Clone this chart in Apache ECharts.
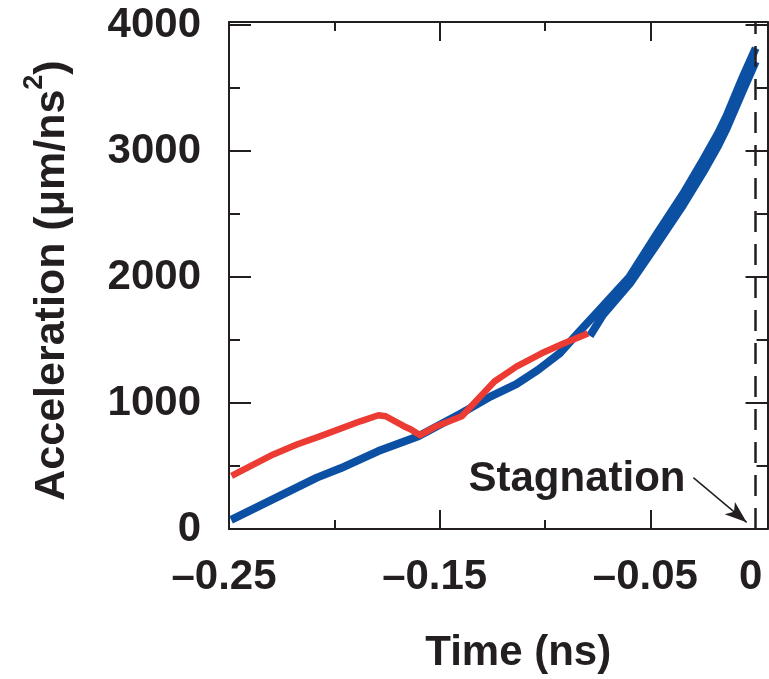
<!DOCTYPE html>
<html>
<head>
<meta charset="utf-8">
<script src="https://cdn.jsdelivr.net/npm/echarts@6/dist/echarts.min.js"></script>
<style>
html,body{margin:0;padding:0;background:#fff;}
#chart{width:769px;height:679px;}
</style>
</head>
<body>
<div id="chart"></div>
<script>
// ---- data ----
const timeBlueA = [-0.249, -0.2083, -0.1971, -0.1791, -0.1601, -0.1395, -0.1257, -0.1136, -0.1033, -0.093, -0.0844, -0.075, -0.060, -0.047, -0.0345, -0.025, -0.0179, -0.0138, -0.0061, 0.0];
const accelBlueA = [72, 408, 482, 619, 737, 921, 1053, 1150, 1263, 1395, 1555, 1725, 2000, 2340, 2660, 2930, 3140, 3280, 3590, 3817];
const timeBlueB = [-0.0787, -0.0725, -0.0597, -0.0469, -0.0345, -0.025, -0.0179, -0.0138, -0.0061, 0.0];
const accelBlueB = [1534, 1700, 1950, 2260, 2570, 2830, 3040, 3180, 3480, 3711];
const timeRed = [-0.2488, -0.229, -0.2178, -0.2066, -0.1877, -0.1791, -0.1756, -0.167, -0.1636, -0.1593, -0.1515, -0.1395, -0.124, -0.1136, -0.1016, -0.0912, -0.0796];
const accelRed = [421, 592, 671, 737, 855, 903, 895, 816, 790, 745, 816, 895, 1171, 1289, 1395, 1473, 1552];
const xMajorTicks = [-0.25, -0.15, -0.05];
const xMinorTicks = [-0.2, -0.1];
const xLabelValues = [-0.25, -0.15, -0.05, 0];
const yMajorTicks = [0, 1000, 2000, 3000, 4000];
const yMinorTicks = [500, 1500, 2500, 3500];
const stagnationTime = 0;
const arrowFrom = [-0.0296, 408];
const arrowTo = [-0.0043, 53];

// ---- chart ----
const ink = '#231f20';
const fam = '"Liberation Sans", Arial, Helvetica, sans-serif';
const xMin = -0.25, xMax = 0.0056, yMin = 0, yMax = 4025;
const zip = (a, b) => a.map((v, i) => [v, b[i]]);

function xLabel(v) {
  if (Math.abs(v) < 1e-9) return '0';
  return '\u2013' + Math.abs(v).toFixed(2);
}
function yLabel(v) { return String(Math.round(v)); }

function mkAxis(pos, isX, major, extra) {
  const a = {
    type: 'value', position: pos,
    min: isX ? xMin : yMin, max: isX ? xMax : yMax,
    splitLine: { show: false },
    axisLine: { show: major, onZero: false, lineStyle: { color: ink, width: 2 } },
    axisTick: {
      inside: true,
      length: major ? (isX ? 19 : 22) : (isX ? 9 : 11),
      customValues: major ? (isX ? xMajorTicks : yMajorTicks) : (isX ? xMinorTicks : yMinorTicks),
      lineStyle: { color: ink, width: 2 }
    },
    axisLabel: { show: false }
  };
  return Object.assign(a, extra || {});
}

const labelStyle = { color: ink, fontSize: 42, fontWeight: 'bold', fontFamily: fam };

const option = {
  animation: false,
  backgroundColor: '#fff',
  grid: { left: 229, right: 1.5, top: 22, bottom: 147.5, containLabel: false },
  xAxis: [
    mkAxis('bottom', true, true, {
      axisLabel: Object.assign({ show: true, customValues: xLabelValues, formatter: xLabel, margin: 27, padding: [0, 10, 0, 0] }, labelStyle),
      name: 'Time (ns)', nameLocation: 'middle', nameGap: 103,
      nameTextStyle: Object.assign({ padding: [0, 0, 0, 40] }, labelStyle)
    }),
    mkAxis('bottom', true, false),
    mkAxis('top', true, true),
    mkAxis('top', true, false)
  ],
  yAxis: [
    mkAxis('left', false, true, {
      axisLabel: Object.assign({ show: true, customValues: yMajorTicks, formatter: yLabel, margin: 28 }, labelStyle),
      name: 'Acceleration (\u03bcm/ns{sup|2})', nameLocation: 'middle', nameGap: 138, nameRotate: 90,
      nameTextStyle: Object.assign({
        lineHeight: 78,
        padding: [0, 10, 0, 0],
        rich: { sup: { fontSize: 27, fontWeight: 'bold', fontFamily: fam, color: ink, verticalAlign: 'top', padding: [8, 0, 0, 0] } }
      }, labelStyle, { fontSize: 43 })
    }),
    mkAxis('left', false, false),
    mkAxis('right', false, true),
    mkAxis('right', false, false)
  ],
  series: [
    {
      type: 'line', xAxisIndex: 0, yAxisIndex: 0, symbol: 'none', silent: true,
      data: zip(timeBlueA, accelBlueA),
      lineStyle: { color: '#0c50a4', width: 8, join: 'round' },
      markLine: {
        silent: true, symbol: ['none', 'none'], label: { show: false }, animation: false,
        data: [
          { xAxis: stagnationTime, lineStyle: { color: ink, width: 2.5, type: [21, 12] } },
          [
            { coord: arrowFrom, symbol: 'none', lineStyle: { color: ink, width: 1.5, type: 'solid' } },
            { coord: arrowTo, symbol: 'arrow', symbolSize: [12, 22] }
          ]
        ]
      }
    },
    {
      type: 'line', xAxisIndex: 0, yAxisIndex: 0, symbol: 'none', silent: true,
      data: zip(timeBlueB, accelBlueB),
      lineStyle: { color: '#0c50a4', width: 8, join: 'round' }
    },
    {
      type: 'line', xAxisIndex: 0, yAxisIndex: 0, symbol: 'none', silent: true,
      data: zip(timeRed, accelRed),
      lineStyle: { color: '#ec3b33', width: 6.5, join: 'round' }
    }
  ],
  graphic: [
    {
      type: 'text', x: 577, y: 479, silent: true,
      style: { text: 'Stagnation', align: 'center', verticalAlign: 'middle', fill: ink, font: 'bold 42px ' + fam }
    }
  ]
};

const chart = echarts.init(document.getElementById('chart'), null, { renderer: 'canvas' });
chart.setOption(option);
</script>
</body>
</html>
